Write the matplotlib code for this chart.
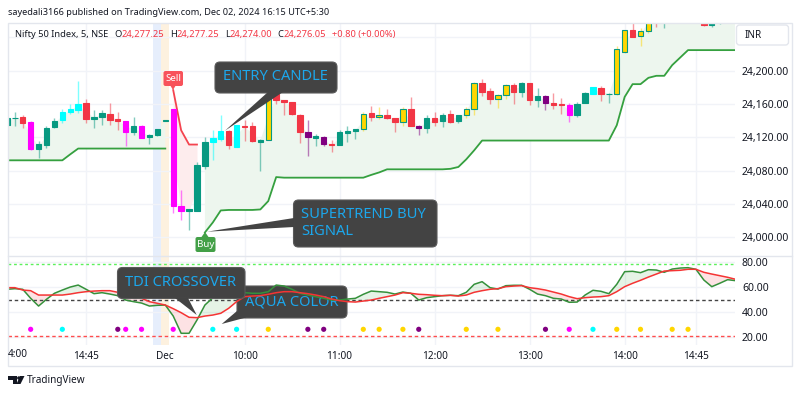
# %%
import numpy as np
import matplotlib.pyplot as plt
from matplotlib.patches import FancyBboxPatch, Polygon, Circle, Rectangle

plt.rcParams["font.family"] = ["Noto Sans", "DejaVu Sans"]

# %%
# bar colour codes: t teal, r red, m magenta, a aqua, y yellow, p purple
bar_colors = list(
    "ttrmtttaaa"
    "rttrrmtmtt"
    "tmmtttaara"
    "rrtyrrrrpt"
    "prtttyryrr"
    "yrptrtrtyy"
    "rryyrtrtpr"
    "rmttartyyr"
    "yyrtytytrt"
    "ttt"
)

opens = [
    24134.6, 24142.7, 24144.2, 24139.0, 24106.6, 24110.9, 24132.5, 24141.4, 24150.5, 24152.9,
    24161.3, 24141.8, 24144.5, 24147.8, 24142.1, 24139.4, 24126.5, 24133.4, 24120.1, 24122.5,
    24139.8, 24153.8, 24037.2, 24031.6, 24032.1, 24086.1, 24114.1, 24118.6, 24127.7, 24108.5,
    24133.7, 24133.4, 24115.0, 24117.4, 24172.6, 24164.9, 24162.5, 24146.9, 24126.5, 24119.8,
    24120.5, 24111.7, 24110.9, 24125.8, 24127.7, 24129.7, 24149.8, 24144.2, 24146.6, 24143.3,
    24138.5, 24154.1, 24133.7, 24131.0, 24142.9, 24139.4, 24147.8, 24139.7, 24147.4, 24154.1,
    24185.0, 24175.0, 24165.4, 24170.2, 24182.6, 24174.2, 24184.6, 24164.6, 24169.4, 24161.0,
    24159.8, 24158.6, 24146.6, 24161.3, 24172.1, 24178.6, 24171.8, 24171.4, 24222.6, 24248.3,
    24241.5, 24247.5, 24270.3, 24260.7, 24260.7, 24260.7, 24260.7, 24260.7, 24263.0, 24255.0,
    24260.7, 24262.0, 24262.0,
]
closes = [
    24143.6, 24143.6, 24137.8, 24106.6, 24111.7, 24131.8, 24140.2, 24150.2, 24154.6, 24160.6,
    24142.6, 24145.0, 24149.0, 24140.9, 24139.7, 24126.5, 24133.4, 24119.8, 24122.5, 24130.6,
    24140.6, 24037.2, 24031.6, 24033.6, 24086.5, 24115.0, 24119.8, 24128.2, 24110.5, 24134.6,
    24132.1, 24115.3, 24117.4, 24170.6, 24164.6, 24163.0, 24148.1, 24126.5, 24121.0, 24121.3,
    24112.1, 24110.5, 24126.5, 24127.7, 24129.7, 24148.6, 24144.5, 24146.6, 24143.0, 24138.5,
    24154.1, 24134.2, 24131.0, 24142.9, 24138.2, 24146.9, 24139.0, 24146.6, 24154.6, 24185.0,
    24174.6, 24166.1, 24170.2, 24182.6, 24174.6, 24185.0, 24164.6, 24169.7, 24161.3, 24158.9,
    24158.9, 24146.6, 24160.6, 24172.6, 24179.8, 24171.4, 24172.4, 24225.5, 24248.3, 24240.6,
    24247.5, 24266.7, 24263.1, 24270.3, 24267.9, 24267.9, 24267.9, 24267.9, 24254.7, 24263.0,
    24261.5, 24270.0, 24270.0,
]
highs = [
    24143.8, 24150.5, 24146.6, 24139.4, 24115.3, 24133.7, 24143.8, 24153.8, 24160.1, 24187.4,
    24165.8, 24153.4, 24153.4, 24161.8, 24150.2, 24140.2, 24144.2, 24134.6, 24123.7, 24130.6,
    24140.6, 24153.8, 24057.3, 24034.5, 24090.5, 24120.5, 24128.5, 24146.6, 24129.4, 24135.1,
    24140.6, 24138.5, 24117.7, 24176.6, 24181.4, 24164.9, 24162.5, 24148.6, 24141.4, 24123.7,
    24121.3, 24116.5, 24128.5, 24133.7, 24129.7, 24151.0, 24157.4, 24157.0, 24154.6, 24143.3,
    24156.2, 24168.5, 24134.6, 24147.4, 24151.0, 24149.0, 24153.4, 24146.6, 24156.5, 24186.2,
    24189.4, 24178.6, 24171.4, 24183.8, 24184.6, 24186.2, 24185.4, 24178.6, 24170.6, 24172.6,
    24166.6, 24161.8, 24163.0, 24174.2, 24180.6, 24181.4, 24173.4, 24229.4, 24248.7, 24258.3,
    24250.7, 24266.7, 24272.7, 24272.7, 24270.0, 24270.0, 24270.0, 24270.0, 24266.7, 24266.0,
    24262.0, 24272.0, 24272.0,
]
lows = [
    24134.6, 24133.3, 24131.8, 24104.5, 24095.8, 24107.3, 24131.5, 24137.3, 24148.6, 24149.3,
    24137.3, 24131.3, 24135.4, 24134.6, 24129.4, 24109.3, 24122.5, 24119.3, 24111.7, 24122.2,
    24139.8, 24029.7, 24021.3, 24008.4, 24032.1, 24082.5, 24092.5, 24115.3, 24106.6, 24108.1,
    24115.3, 24114.5, 24079.3, 24116.5, 24160.6, 24146.6, 24147.4, 24113.8, 24097.7, 24109.3,
    24109.7, 24102.5, 24110.5, 24114.5, 24118.6, 24127.3, 24139.7, 24141.8, 24142.1, 24126.5,
    24133.7, 24133.4, 24122.5, 24125.8, 24133.7, 24132.1, 24137.3, 24137.3, 24143.3, 24146.9,
    24169.7, 24160.1, 24155.8, 24165.4, 24159.8, 24168.5, 24159.4, 24156.5, 24152.6, 24153.8,
    24148.6, 24138.5, 24144.5, 24161.0, 24171.8, 24163.7, 24161.8, 24170.6, 24221.4, 24240.6,
    24229.8, 24244.7, 24251.9, 24250.7, 24259.5, 24259.5, 24259.5, 24259.5, 24253.5, 24252.6,
    24255.9, 24262.0, 24262.0,
]

nan = float("nan")
supertrend_up = [
    24092.5, 24092.5, 24092.5, 24092.5, 24092.5, 24092.5, 24092.5, 24092.5, 24099.7, 24106.6,
    24106.6, 24106.6, 24106.6, 24106.6, 24106.6, 24106.6, 24106.6, 24106.6, 24106.6, 24106.6,
    24106.6, nan, nan, nan, nan, 24006.0, 24018.0, 24032.4, 24033.0, 24033.0,
    24033.0, 24033.0, 24033.6, 24043.6, 24072.4, 24071.7, 24071.7, 24071.7, 24071.7, 24071.7,
    24071.7, 24071.7, 24071.7, 24071.7, 24071.7, 24071.7, 24075.0, 24078.0, 24081.7, 24081.7,
    24081.7, 24081.7, 24081.7, 24081.7, 24081.7, 24081.7, 24082.3, 24084.5, 24093.7, 24104.5,
    24116.2, 24116.2, 24116.2, 24116.2, 24116.2, 24116.2, 24116.2, 24116.2, 24116.2, 24116.2,
    24116.2, 24116.2, 24116.2, 24116.2, 24116.2, 24116.2, 24116.2, 24134.5, 24168.5, 24183.8,
    24183.8, 24191.4, 24193.8, 24193.8, 24206.6, 24215.6, 24224.6, 24224.6, 24224.6, 24224.6,
    24224.6, 24224.6, 24224.6,
]
sell_bars = [21, 22, 23, 24]
supertrend_down = [24176.6, 24128.5, 24111.4, 24111.4]

tdi_green = [
    58.4, 58.9, 58.4, 51.2, 45.0, 50.4, 55.2, 57.8, 60.2, 61.8,
    58.4, 54.9, 55.7, 54.6, 53.3, 49.8, 48.5, 47.4, 45.0, 45.6,
    45.8, 37.0, 23.2, 23.2, 33.8, 45.8, 51.7, 52.8, 52.8, 52.8,
    55.7, 55.2, 55.2, 56.5, 61.8, 61.0, 58.4, 55.2, 53.8, 52.5,
    51.2, 49.8, 49.8, 50.6, 51.2, 54.4, 57.0, 56.5, 56.0, 54.6,
    56.2, 55.2, 49.8, 51.7, 52.5, 53.3, 53.6, 53.3, 56.0, 62.4,
    64.5, 59.7, 58.6, 61.3, 61.6, 61.6, 58.4, 54.6, 53.3, 51.2,
    50.6, 48.0, 48.2, 53.8, 57.6, 56.8, 54.9, 62.4, 72.5, 72.8,
    71.7, 74.1, 73.8, 72.0, 74.6, 75.4, 75.7, 74.4, 65.8, 60.5,
    63.2, 66.1, 65.3,
]
tdi_red = [
    59.7, 59.7, 57.8, 57.3, 53.8, 53.8, 53.8, 53.8, 54.6, 55.7,
    56.5, 57.0, 57.3, 57.3, 56.0, 54.4, 53.3, 51.2, 48.5, 47.2,
    45.8, 42.9, 39.7, 36.0, 35.7, 37.0, 37.8, 39.2, 43.2, 48.5,
    52.5, 53.0, 53.3, 54.4, 55.7, 56.5, 56.5, 55.7, 54.9, 53.8,
    52.5, 50.6, 49.3, 48.5, 48.2, 49.0, 49.8, 51.2, 52.5, 53.8,
    55.7, 55.2, 54.4, 54.1, 53.6, 53.3, 53.6, 53.0, 53.8, 56.0,
    57.3, 58.4, 58.9, 60.5, 61.0, 61.3, 59.7, 58.9, 57.8, 56.2,
    54.6, 52.5, 50.9, 51.7, 52.2, 52.5, 53.3, 56.5, 60.5, 63.2,
    65.6, 68.2, 70.6, 73.0, 73.3, 73.6, 74.4, 74.4, 72.0, 70.6,
    69.3, 68.0, 66.4,
]

dot_bars = [3, 7, 14, 15, 17, 21, 26, 29, 33, 38, 40, 45, 47, 50, 52, 58, 62, 68, 71, 74, 77, 80, 84, 86]
dot_codes = list("mapmmmaaypp" "yyypyypmayyyy")
dot_level = 26.4
levels_tdi = [78.4, 49.8, 21.3]

price_ticks = [24000, 24040, 24080, 24120, 24160, 24200, 24240]
price_labels = ["24,000.00", "24,040.00", "24,080.00", "24,120.00", "24,160.00", "24,200.00", ""]
tdi_ticks = [20, 40, 60, 80]
tdi_labels = ["20.00", "40.00", "60.00", "80.00"]
time_ticks = [10, 20, 30, 42, 54, 66, 78, 87]
time_labels = ["14:45", "Dec", "10:00", "11:00", "12:00", "13:00", "14:00", "14:45"]
grid_bars = [10, 30, 42, 54, 66, 78, 87]
blue_bar = 19
orange_bar = 20

palette = {
    "t": "#089981",
    "r": "#f23645",
    "m": "#ff00ff",
    "a": "#00ffff",
    "y": "#ffd600",
    "p": "#800080",
}
GRID = "#f1f3f8"
BORDER = "#e3e6ed"
CALLOUT = "#434343"
CALLOUT_TEXT = "#1ca7ec"

W, H = 800, 394
XMIN, XMAX = 0.076, 91.93


def pane(top, bottom):
    return fig.add_axes([7.5 / W, 1 - bottom / H, (735 - 7.5) / W, (bottom - top) / H])


# %%
fig = plt.figure(figsize=(W / 100, H / 100), dpi=100, facecolor="white")
ax = pane(22.5, 255.5)
ax2 = pane(255.5, 345)
ov = fig.add_axes([0, 0, 1, 1], zorder=5)
ov.set_xlim(0, W)
ov.set_ylim(H, 0)
ov.axis("off")

bars = np.arange(len(opens))
o = np.array(opens)
c = np.array(closes)
mid = (o + c) / 2
st = np.array(supertrend_up)

for a in (ax, ax2):
    a.set_xlim(XMIN, XMAX)
    a.patch.set_alpha(0)
    for s in a.spines.values():
        s.set_visible(False)
    a.axvspan(blue_bar - 0.5, blue_bar + 0.5, color="#e6eefc", lw=0, zorder=0)
    a.axvspan(orange_bar - 0.5, orange_bar + 0.5, color="#fdf1df", lw=0, zorder=0)
    for g in grid_bars:
        a.axvline(g, color=GRID, lw=1, zorder=0.5)

# price pane
ax.set_ylim(23978.4, 24257.7)
ax.set_yticks(price_ticks, price_labels)
ax.yaxis.tick_right()
ax.tick_params(axis="y", length=0, pad=5, labelsize=7.5, labelcolor="#131722")
ax.set_xticks([])
for p in price_ticks:
    ax.axhline(p, color=GRID, lw=1, zorder=0.5)

ax.fill_between(bars, mid, st, where=~np.isnan(st), color="#edf6ee", lw=0, zorder=1)
ax.fill_between(sell_bars, mid[sell_bars], supertrend_down, color="#fdeced", lw=0, zorder=1)
ax.plot(bars, st, color="#35a03f", lw=1.3, zorder=2)
ax.plot(sell_bars, supertrend_down, color="#f4444f", lw=1.3, zorder=2)

for i in bars:
    col = palette[bar_colors[i]]
    ax.vlines(i, lows[i], highs[i], color=col, lw=1, alpha=0.5, zorder=3)
    edge = palette["t"] if bar_colors[i] == "y" else col
    ax.bar(
        i,
        abs(c[i] - o[i]),
        bottom=min(o[i], c[i]),
        width=0.68,
        color=col,
        edgecolor=edge,
        lw=0.8,
        zorder=4,
    )

# TDI pane
ax2.set_ylim(13.84, 85.44)
ax2.set_yticks(tdi_ticks, tdi_labels)
ax2.yaxis.tick_right()
ax2.tick_params(axis="y", length=0, pad=5, labelsize=7.5, labelcolor="#131722")
ax2.set_xticks(time_ticks, time_labels)
ax2.tick_params(axis="x", length=0, pad=4, labelsize=7.2, labelcolor="#131722")
ax2.get_xticklabels()[1].set_fontweight("bold")
for p in tdi_ticks:
    ax2.axhline(p, color=GRID, lw=1, zorder=0.5)

green = np.array(tdi_green)
red = np.array(tdi_red)
ax2.fill_between(bars, green, red, where=green >= red, interpolate=True, color="#4caf50", alpha=0.14, lw=0, zorder=1)
ax2.fill_between(bars, green, red, where=green < red, interpolate=True, color="#f23645", alpha=0.14, lw=0, zorder=1)
ax2.axhline(levels_tdi[0], color="#5cf05c", lw=1, ls=(0, (2, 2)), zorder=2)
ax2.axhline(levels_tdi[1], color="#444444", lw=1, ls=(0, (2.5, 2)), zorder=2)
ax2.axhline(levels_tdi[2], color="#ff4d4d", lw=1, ls=(0, (2.5, 2)), zorder=2)
ax2.plot(bars, green, color="#35913b", lw=1.1, zorder=4)
ax2.plot(bars, red, color="#f53434", lw=1.1, zorder=5)
ax2.scatter(dot_bars, [dot_level] * len(dot_bars), c=[palette[k] for k in dot_codes], s=14, lw=0, zorder=3)


# %%
def callout(x0, y0, x1, y1, tail, target=ov, z=6):
    box = FancyBboxPatch(
        (x0 + 5, y0 + 5),
        x1 - x0 - 10,
        y1 - y0 - 10,
        boxstyle="round,pad=5,rounding_size=5",
        fc=CALLOUT,
        ec="#5a5a5a",
        lw=0.8,
        transform=ov.transData,
        clip_on=False,
        zorder=z,
    )
    target.add_patch(box)
    target.add_patch(Polygon(tail, fc=CALLOUT, ec="none", transform=ov.transData, clip_on=False, zorder=z))


callout(237, 286, 347, 318, [(237, 311), (221.7, 324), (246, 317.5)], target=ax2, z=3.5)
ax2.text(245, 301.5, "AQUA COLOR", color=CALLOUT_TEXT, fontsize=10.6, va="center", transform=ov.transData, zorder=3.6)

callout(117.5, 267.5, 245, 298.5, [(175, 298), (196.7, 315), (188, 298)])
ov.text(125, 282, "TDI CROSSOVER", color=CALLOUT_TEXT, fontsize=10.6, va="center", zorder=7)

callout(215, 62, 337, 93, [(283, 92), (225, 130.7), (268, 92)])
ov.text(223, 76, "ENTRY CANDLE", color=CALLOUT_TEXT, fontsize=10.6, va="center", zorder=7)

callout(293.5, 200, 437, 247, [(294, 218), (207, 231.7), (294, 227)])
ov.text(301, 223, "SUPERTREND BUY\nSIGNAL", color=CALLOUT_TEXT, fontsize=10.6, va="center", linespacing=1.2, zorder=7)

# Sell / Buy labels
ov.add_patch(FancyBboxPatch((165, 72.5), 16.5, 12, boxstyle="round,pad=1.5,rounding_size=2", fc="#f8525a", ec="none", zorder=6))
ov.add_patch(Polygon([(170, 85), (173, 90), (176, 85)], fc="#f8525a", ec="none", zorder=6))
ov.text(173.5, 78.5, "Sell", color="white", fontsize=7, fontweight="bold", ha="center", va="center", zorder=7)
ov.add_patch(FancyBboxPatch((197, 238.5), 17, 12, boxstyle="round,pad=1.5,rounding_size=2", fc="#43a047", ec="none", zorder=6))
ov.add_patch(Polygon([(201.5, 237), (205, 232), (208.5, 237)], fc="#43a047", ec="none", zorder=6))
ov.text(205.5, 244.5, "Buy", color="white", fontsize=7, fontweight="bold", ha="center", va="center", zorder=7)

# frame
ov.add_patch(Rectangle((7.5, 22.5), 784, 343, fc="none", ec=BORDER, lw=1, zorder=1))
ov.plot([7.5, 791.5], [255.5, 255.5], color=BORDER, lw=1, zorder=1)
ov.add_patch(FancyBboxPatch((738.5, 27), 48, 16, boxstyle="round,pad=2,rounding_size=3", fc="white", ec=BORDER, lw=1, zorder=2))
ov.text(745, 35.5, "INR", color="#131722", fontsize=7.2, va="center", zorder=3)

# texts
ov.text(8, 12.5, "sayedali3166 published on TradingView.com, Dec 02, 2024 16:15 UTC+5:30", color="#131722", fontsize=6.6, va="center")
ov.text(14.7, 34.5, "Nifty 50 Index, 5, NSE", color="#131722", fontsize=6.7, va="center")
legend_parts = [
    (114.7, "O", "#131722"),
    (121.7, "24,277.25", "#f23645"),
    (170, "H", "#131722"),
    (176.7, "24,277.25", "#f23645"),
    (224.7, "L", "#131722"),
    (230, "24,274.00", "#f23645"),
    (277.7, "C", "#131722"),
    (283, "24,276.05", "#f23645"),
    (331.7, "+0.80 (+0.00%)", "#f23645"),
]
for lx, s, col in legend_parts:
    ov.text(lx, 34.5, s, color=col, fontsize=6.7, va="center")
ov.text(8, 354.5, "4:00", color="#131722", fontsize=7.2, va="center")

# TradingView logo
ov.add_patch(Polygon([(8, 376), (17, 376), (17, 384), (13, 384), (13, 380), (8, 380)], fc="#131722", ec="none"))
ov.add_patch(Circle((18.8, 378), 1.7, fc="#131722", ec="none"))
ov.add_patch(Polygon([(20.5, 384), (16.5, 384), (20, 376), (24.5, 376)], fc="#131722", ec="none"))
ov.text(27, 380.5, "TradingView", color="#131722", fontsize=7.2, va="center")

fig.savefig("out.png", dpi=100)
